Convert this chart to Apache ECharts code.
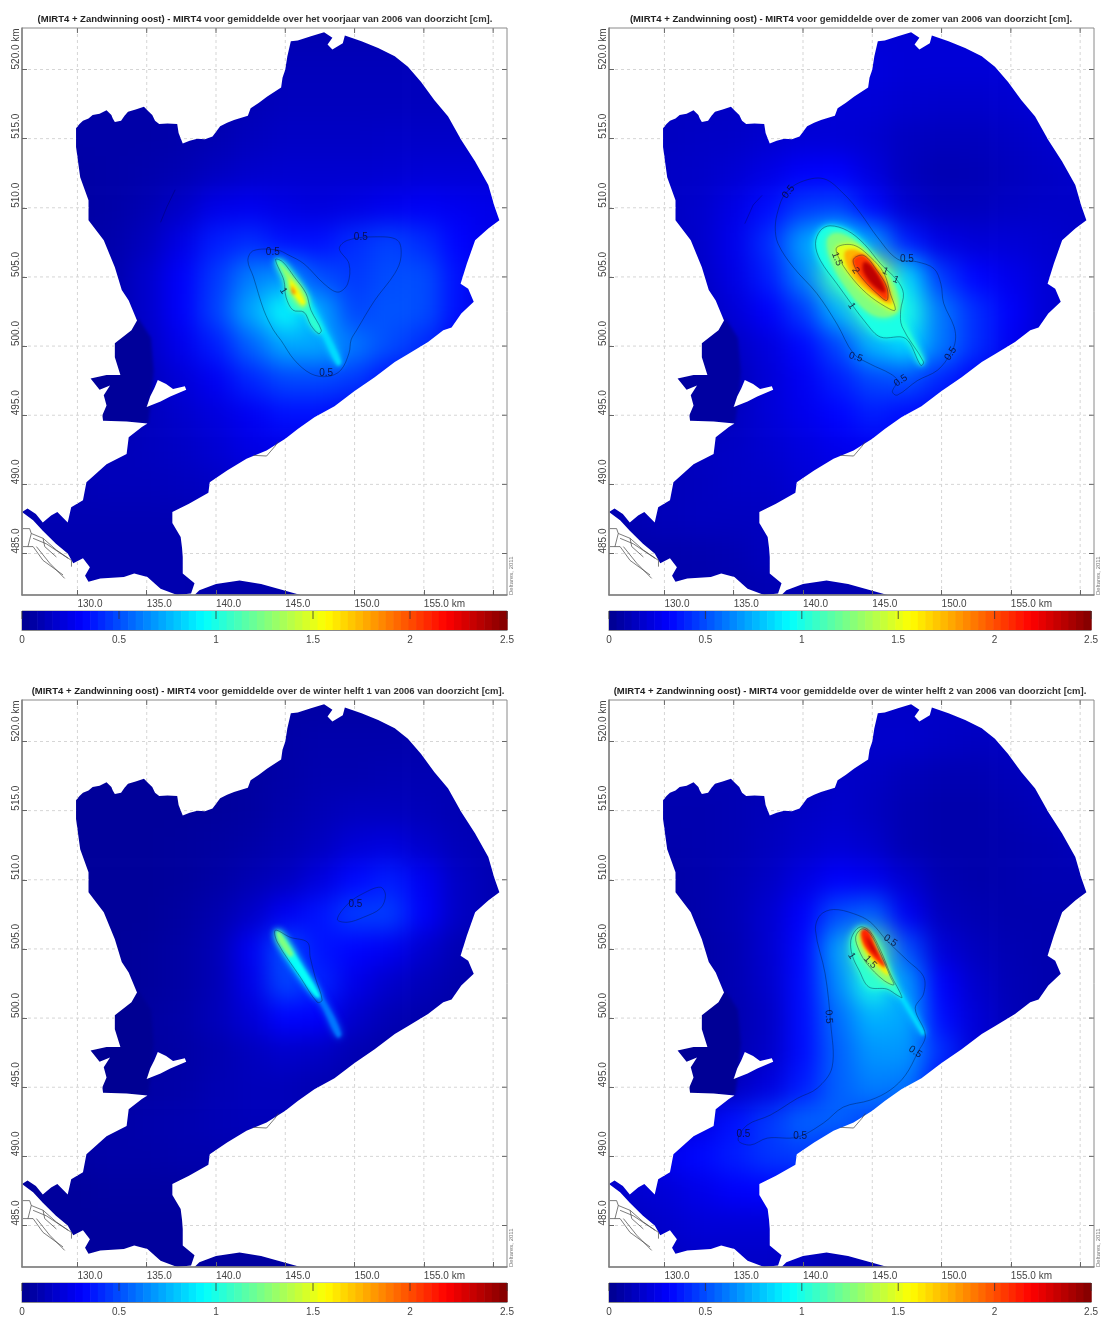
<!DOCTYPE html>
<html><head><meta charset="utf-8">
<style>
html,body{margin:0;padding:0;background:#fff;overflow:hidden;width:1101px;height:1318px}
.layer{position:absolute}
#low{left:-60px;top:-60px;width:1221px;height:1438px;filter:blur(12px)}
#high{left:0;top:0;width:1101px;height:1318px;filter:blur(1.8px)}
#main{left:0;top:0;width:1101px;height:1318px;filter:blur(.6px)}
</style>
<script src="https://cdn.jsdelivr.net/npm/echarts@6/dist/echarts.min.js"></script>
</head><body>
<div id="low" class="layer"></div><div id="high" class="layer"></div><div id="main" class="layer"></div>
<script>
// ---------- labels ----------
const titleBold='(MIRT4 + Zandwinning oost) - MIRT4';
const titleTexts=[
 ' voor gemiddelde over het voorjaar van 2006 van doorzicht [cm].',
 ' voor gemiddelde over de zomer van 2006 van doorzicht [cm].',
 ' voor gemiddelde over de winter helft 1 van 2006 van doorzicht [cm].',
 ' voor gemiddelde over de winter helft 2 van 2006 van doorzicht [cm].'];
const xTickValues=[130,135,140,145,150,155,160];
const xLabelValues=[130,135,140,145,150,155];
const yTickValues=[485,490,495,500,505,510,515,520];
const barTickValues=[0,0.5,1,1.5,2,2.5];
const jetStops=['#00008f','#0000ff','#0080ff','#00ffff','#80ff80','#ffff00','#ff8000','#ff0000','#800000'];

// ---------- field estimate read from the maps (cm), rows north to south ----------
const fieldX=[125,127.5,130,132.5,135,137.5,140,142.5,145,147.5,150,152.5,155,157.5,160,162.5];
const fieldY=[525,522.5,520,517.5,515,512.5,510,507.5,505,502.5,500,497.5,495,492.5,490,487.5,485,482.5,480];
const fieldP1=[
[.08,.08,.08,.08,.08,.08,.08,.1,.1,.1,.1,.1,.1,.1,.1,.1],
[.08,.08,.08,.08,.08,.08,.08,.1,.1,.1,.1,.1,.1,.1,.1,.1],
[.08,.08,.08,.08,.08,.08,.09,.1,.12,.12,.12,.12,.12,.12,.12,.12],
[.07,.07,.07,.07,.07,.08,.09,.11,.13,.13,.13,.13,.13,.13,.13,.13],
[.07,.07,.07,.07,.07,.08,.1,.13,.15,.15,.15,.16,.16,.16,.16,.16],
[.06,.06,.06,.07,.08,.1,.14,.17,.18,.18,.18,.19,.2,.2,.2,.2],
[.06,.06,.06,.07,.1,.16,.25,.27,.24,.22,.24,.27,.29,.27,.25,.25],
[.06,.06,.06,.08,.13,.24,.38,.42,.35,.35,.42,.47,.42,.32,.25,.25],
[.06,.06,.06,.09,.17,.3,.45,.62,.68,.5,.45,.5,.5,.35,.2,.2],
[.06,.06,.06,.09,.17,.3,.47,.72,.95,.72,.48,.52,.5,.35,.18,.18],
[.06,.06,.06,.08,.15,.26,.38,.55,.72,.72,.6,.5,.42,.28,.15,.15],
[.05,.05,.05,.07,.13,.2,.28,.4,.48,.48,.45,.35,.25,.2,.15,.15],
[.05,.05,.06,.08,.13,.17,.22,.28,.35,.35,.28,.22,.18,.15,.15,.15],
[.08,.1,.1,.12,.13,.15,.19,.24,.25,.24,.2,.18,.15,.15,.15,.15],
[.08,.1,.11,.12,.12,.13,.15,.18,.2,.18,.15,.15,.15,.15,.15,.15],
[.09,.1,.1,.1,.1,.1,.12,.13,.13,.12,.12,.12,.12,.12,.12,.12],
[.09,.09,.09,.09,.09,.09,.1,.1,.1,.1,.1,.1,.1,.1,.1,.1],
[.09,.09,.09,.09,.09,.09,.08,.08,.08,.08,.08,.08,.08,.08,.08,.08],
[.09,.09,.09,.09,.09,.09,.08,.08,.08,.08,.08,.08,.08,.08,.08,.08]];
const fieldP2=[
[.14,.14,.14,.14,.14,.14,.14,.18,.2,.2,.2,.2,.2,.2,.2,.2],
[.14,.14,.14,.14,.14,.14,.14,.18,.2,.2,.2,.2,.2,.2,.2,.2],
[.14,.14,.14,.14,.14,.15,.16,.18,.22,.2,.2,.2,.2,.2,.2,.2],
[.14,.14,.14,.14,.15,.16,.18,.2,.2,.18,.17,.17,.18,.2,.2,.2],
[.14,.14,.14,.15,.16,.18,.2,.2,.18,.14,.13,.13,.15,.17,.2,.2],
[.14,.14,.15,.16,.19,.24,.3,.31,.22,.13,.1,.11,.13,.15,.17,.17],
[.14,.14,.15,.17,.24,.34,.45,.47,.33,.18,.13,.13,.15,.16,.16,.16],
[.1,.12,.13,.17,.26,.42,.7,.9,.7,.38,.24,.2,.2,.18,.16,.16],
[.08,.1,.11,.15,.24,.38,.62,1.1,1.5,.85,.45,.32,.26,.2,.16,.16],
[.08,.08,.09,.13,.2,.3,.45,.75,1.1,1,.6,.42,.3,.2,.15,.15],
[.07,.07,.08,.1,.15,.22,.33,.48,.75,.85,.6,.42,.28,.18,.15,.15],
[.06,.06,.06,.08,.12,.2,.28,.38,.48,.5,.4,.3,.2,.15,.15,.15],
[.08,.08,.08,.1,.14,.2,.26,.32,.38,.34,.28,.2,.17,.15,.15,.15],
[.1,.1,.12,.14,.15,.18,.22,.26,.28,.28,.22,.18,.15,.15,.15,.15],
[.1,.11,.12,.13,.15,.16,.2,.22,.22,.2,.18,.15,.15,.15,.15,.15],
[.1,.1,.12,.13,.13,.14,.15,.15,.15,.15,.15,.15,.15,.15,.15,.15],
[.08,.08,.08,.09,.1,.13,.13,.13,.13,.13,.13,.13,.13,.13,.13,.13],
[.08,.08,.08,.08,.09,.1,.1,.1,.1,.1,.1,.1,.1,.1,.1,.1],
[.08,.08,.08,.08,.09,.1,.1,.1,.1,.1,.1,.1,.1,.1,.1,.1]];
const fieldP3=[
[.04,.04,.04,.04,.04,.04,.04,.05,.06,.06,.06,.06,.06,.06,.06,.06],
[.04,.04,.04,.04,.04,.04,.04,.05,.06,.06,.06,.06,.06,.06,.06,.06],
[.03,.03,.03,.03,.03,.03,.03,.05,.07,.08,.08,.08,.08,.08,.08,.08],
[.03,.03,.03,.03,.03,.03,.04,.05,.07,.09,.09,.1,.1,.1,.1,.1],
[.03,.03,.03,.03,.03,.03,.04,.05,.08,.11,.13,.13,.12,.1,.1,.1],
[.03,.03,.03,.03,.03,.04,.05,.07,.1,.14,.2,.22,.17,.12,.1,.1],
[.03,.03,.03,.03,.03,.04,.06,.1,.14,.22,.33,.38,.28,.15,.1,.1],
[.03,.03,.03,.03,.03,.05,.09,.16,.28,.36,.46,.46,.3,.15,.1,.1],
[.03,.03,.03,.03,.04,.06,.11,.28,.5,.36,.32,.28,.18,.1,.08,.08],
[.03,.03,.03,.03,.04,.06,.11,.25,.48,.4,.25,.17,.12,.08,.07,.07],
[.03,.03,.03,.03,.05,.07,.12,.2,.32,.3,.17,.11,.08,.06,.05,.05],
[.03,.03,.03,.03,.05,.06,.09,.13,.17,.15,.1,.07,.05,.05,.05,.05],
[.04,.04,.04,.05,.06,.07,.1,.12,.12,.1,.08,.06,.05,.05,.05,.05],
[.05,.05,.06,.07,.08,.09,.11,.12,.12,.1,.07,.05,.05,.05,.05,.05],
[.05,.05,.06,.07,.07,.08,.09,.09,.09,.08,.06,.05,.05,.05,.05,.05],
[.04,.04,.04,.05,.05,.05,.06,.06,.06,.05,.05,.05,.05,.05,.05,.05],
[.04,.04,.04,.04,.04,.04,.04,.04,.04,.04,.04,.04,.04,.04,.04,.04],
[.04,.04,.04,.04,.04,.04,.05,.05,.05,.05,.05,.05,.05,.05,.05,.05],
[.04,.04,.04,.04,.04,.04,.05,.05,.05,.05,.05,.05,.05,.05,.05,.05]];
const fieldP4=[
[.12,.12,.12,.12,.12,.12,.12,.14,.16,.16,.16,.16,.16,.16,.16,.16],
[.12,.12,.12,.12,.12,.12,.12,.14,.16,.16,.16,.16,.16,.16,.16,.16],
[.1,.1,.1,.1,.1,.1,.12,.15,.17,.17,.15,.14,.14,.15,.15,.15],
[.1,.1,.1,.1,.1,.1,.12,.16,.15,.12,.1,.1,.12,.13,.14,.14],
[.09,.09,.09,.09,.1,.12,.15,.17,.14,.1,.08,.08,.1,.12,.14,.14],
[.08,.08,.08,.09,.1,.13,.17,.2,.17,.1,.08,.08,.09,.1,.12,.12],
[.07,.07,.07,.08,.11,.15,.23,.3,.27,.18,.1,.08,.09,.1,.1,.1],
[.06,.06,.06,.08,.11,.18,.3,.5,.55,.28,.13,.1,.09,.09,.09,.09],
[.05,.05,.06,.07,.1,.18,.33,.7,1.2,.5,.2,.13,.1,.09,.09,.09],
[.05,.05,.05,.07,.1,.17,.34,.65,1,.68,.3,.17,.11,.09,.08,.08],
[.05,.05,.05,.07,.09,.15,.34,.58,.75,.72,.34,.2,.12,.08,.08,.08],
[.05,.05,.05,.07,.1,.16,.34,.55,.68,.68,.42,.2,.12,.08,.08,.08],
[.06,.06,.07,.1,.14,.22,.38,.55,.62,.6,.32,.2,.12,.08,.08,.08],
[.1,.12,.17,.24,.35,.45,.55,.55,.48,.4,.3,.2,.12,.08,.08,.08],
[.15,.2,.27,.33,.38,.44,.46,.38,.3,.25,.2,.15,.1,.08,.08,.08],
[.16,.18,.2,.25,.3,.32,.3,.25,.2,.15,.12,.1,.1,.08,.08,.08],
[.12,.14,.17,.2,.2,.2,.18,.15,.12,.1,.1,.1,.1,.08,.08,.08],
[.1,.12,.14,.16,.16,.16,.14,.1,.1,.1,.1,.1,.1,.08,.08,.08],
[.1,.12,.14,.16,.16,.16,.14,.1,.1,.1,.1,.1,.1,.08,.08,.08]];

// ---------- coast in km ----------
const coastMain=[[129.9,515.75],[130.15,516.05],[130.4,516.3],[130.8,516.45],[131.1,516.7],[131.6,516.8],[132.1,517.05],[132.45,516.7],[132.55,516.45],[132.7,516.2],[133.15,516.3],[133.4,516.65],[133.65,516.95],[134.2,517.1],[134.8,517.3],[135.1,517],[135.4,516.7],[135.6,516.3],[135.9,516.05],[136.5,516.1],[137.2,516.05],[137.3,515.4],[137.6,514.65],[138.1,514.85],[138.65,515],[139.2,514.95],[139.75,515.15],[140.3,515.9],[140.8,516.15],[141.3,516.35],[142.3,516.65],[142.5,517.2],[143.1,517.6],[143.7,518.05],[144.7,518.7],[144.8,519.4],[145,520],[145.15,520.95],[145.4,522.05],[145.9,522.1],[146.85,522.4],[147.8,522.7],[148.4,522.3],[148.05,521.8],[148.4,521.45],[149.15,521.9],[149.3,522.45],[150.5,522.05],[151.7,521.55],[152.9,520.95],[153.85,520.2],[154.8,519.1],[155.75,517.8],[156.75,516.6],[157.7,514.9],[158.7,513.35],[159.65,511.65],[160.1,510.1],[160.45,509.1],[159.65,508.5],[158.7,507.65],[158.4,506.8],[158.1,505.95],[157.65,504.5],[158.2,504.15],[158.6,503.2],[157.7,502.35],[157,501.35],[156.4,501.15],[155.3,500.3],[153.9,499.45],[152.9,498.85],[151.45,497.75],[150,496.75],[148.55,495.65],[147.1,494.85],[145.9,494],[145,493.3],[143.65,492.45],[142.2,491.85],[140.8,491],[139.55,490.15],[139.45,489.4],[138.05,488.6],[136.85,488],[136.85,487.2],[137.45,486.2],[137.55,485.4],[137.6,484.75],[137.6,483.55],[138.45,482.85],[138.2,482.1],[137.2,482],[136,482.45],[135.05,483.3],[134.1,483.55],[133.35,483.3],[131.65,483.2],[130.8,482.95],[130.55,483.4],[130.9,484],[130.4,484.65],[129.7,484.3],[129.3,485],[128.45,485.7],[127.5,486.65],[126.8,487.4],[126,488],[126.4,488.25],[127,487.85],[127.5,487.25],[128.1,487.75],[128.55,488],[129.3,487.25],[129.55,488.35],[130.4,488.85],[130.65,490.15],[132.1,491.45],[133.55,492.2],[133.7,493.4],[134.65,494.15],[135.05,494.4],[133.55,494.55],[131.85,494.6],[131.8,495],[132.1,495.7],[131.9,496.45],[132.35,497.15],[131.6,496.85],[130.95,497.65],[132.1,497.9],[133.1,497.9],[132.7,499.2],[132.7,500.2],[133.9,501.15],[134.3,501.85],[133.7,503.3],[133.2,504.05],[132.7,505.7],[131.9,507.65],[130.8,509.1],[130.8,510.55],[130.2,512.2],[129.9,514.4]];
const coastBay=[[135.8,497.55],[136.4,497.25],[136.9,496.9],[137.75,497.1],[137.85,496.85],[136.7,496.35],[136,496],[135,495.6],[135.25,496.35],[135.55,496.95]];
const coastIsland=[[138.45,482],[138.8,482.35],[140,482.8],[141.7,483.05],[143.25,482.8],[145,482.3],[146.1,482]];
const landLines=[
[[126.05,486.8],[126.55,486.8],[126.67,486.45],[127.52,486.1],[128.48,485.25],[129.57,484.5],[129.57,484.05]],
[[126.07,485.5],[126.8,485.5],[127.52,484.5],[128.96,483.45]],
[[126.67,486.45],[126.43,485.5]],
[[127.52,486.1],[127.64,485.5],[128.48,484.75]],
[[127.04,485.5],[128,484.3],[129.08,483.2]],
[[126.8,486.1],[127.76,485.7],[129.33,484.65]],
[[142.7,492.1],[143.65,492.05],[144.25,492.75],[144.5,493.1]]];

// ---------- contour polygons in km ----------
const basinWest=[[131.5,494.3],[135.1,494.4],[135.35,496.2],[135.5,498.2],[135.3,500.6],[134.4,502],[132.6,500.6],[131,498]];
const p1c05=[[144.4,506.95],[142.7,506.9],[142.3,506.2],[142.7,505],[143.45,502.6],[144.15,501.15],[144.7,500.4],[145.65,499],[146.85,498],[148.05,497.8],[149,498.25],[149.6,499.5],[149.75,500.45],[150.15,501.15],[151.45,503.3],[152.9,505.25],[153.35,506.45],[153.1,507.65],[151.45,507.9],[149.5,507.65],[148.9,507.05],[149.6,505.95],[149.5,504.5],[148.8,503.9],[147.8,504.5],[146.35,505.95],[145.2,506.6]];
const p1c05b=[[137.05,511.3],[136.45,510.05],[136,508.95]];
const p1c1=[[144.3,506.25],[144.8,506.1],[145.65,505],[146.5,503.8],[146.85,502.6],[147.6,501.15],[147.4,500.9],[146.85,501.5],[146.35,502.45],[145.55,502.6],[145.05,503.55],[144.9,504.75]];
const p1tail=[[144.3,506.25],[144.8,506.1],[146.5,503.8],[147.95,501.15],[149.05,498.85],[148.75,498.6],[147.45,501.15],[145.6,503.9],[144.6,505.5]];
const p1b125=[[144.45,506.1],[144.9,505.7],[145.9,504.5],[146.5,503.3],[146.25,502.8],[145.65,503.55],[145.05,505]];
const p1b15=[[145.3,504.9],[145.75,504.3],[146.5,503.05],[146.15,503.05],[145.4,504.05]];
const p1b18=[[145.45,504.4],[145.75,503.8],[145.5,503.8]];
const p2c05=[[138,508.6],[138.2,509.8],[138.7,511],[139.8,511.85],[141.5,512.1],[142.95,511],[144.15,509.6],[145.35,507.9],[146.8,506.3],[148.2,506.1],[149.45,505.6],[149.95,504.5],[150.15,503.1],[150.9,501.4],[151,500.4],[150.65,499.45],[149.7,498.25],[148.25,497.5],[146.8,496.45],[146.45,496.7],[146.8,497.5],[146.3,498],[144.85,498.7],[143.65,499.45],[142.45,501.6],[141,503.8],[139.3,505.7],[138.2,507.4]];
const p2c05b=[[135.8,508.85],[136.4,510.2],[137.05,510.9]];
const p2c1=[[140.9,507.4],[141.25,508.35],[141.95,508.7],[143.2,508.35],[144.4,507.4],[145.6,505.95],[146.8,504.75],[147.25,503.8],[147.05,502.6],[147.15,501.4],[148.7,498.85],[148.5,498.6],[147.4,500.55],[145.6,500.65],[144.6,501.6],[142.45,504.5],[141.25,506.2]];
const p2b125=[[141.75,507.65],[142.3,508.15],[143.3,507.9],[144.6,506.8],[145.8,505.6],[146.65,504.3],[146.9,502.6],[146.05,502.1],[144.85,502.35],[143.4,503.8],[142.1,505.95]];
const p2c15=[[142.45,507.15],[143.65,507.3],[144.85,506.45],[145.85,505.25],[146.3,503.8],[146.65,502.6],[145.95,502.85],[144.6,503.8],[143.4,505.1],[142.55,506.45]];
const p2b175=[[143.05,506.8],[143.9,506.9],[145,505.95],[145.95,504.75],[146.4,503.1],[145.6,503.45],[144.25,504.4],[143.3,505.6]];
const p2c2=[[143.65,506.3],[144.4,506.55],[145.35,505.45],[146.05,504.25],[146.05,503.3],[145.35,503.8],[144.4,504.75],[143.8,505.6]];
const p2b235=[[144.4,506.05],[144.85,505.85],[145.6,504.75],[145.9,503.9],[145.1,504.4],[144.4,505.35]];
const p2tail=[[146.4,502.7],[146.8,502.7],[148.75,498.95],[148.5,498.7]];
const p3c05=[[144.28,506.35],[145.36,505.84],[146.6,505.48],[146.8,504.4],[147.16,502.95],[147.66,501.3],[147.3,501.15],[146.09,502.95],[144.43,505.48]];
const p3c05b=[[148.76,507.14],[149.56,508.3],[150.64,509.02],[151.87,509.46],[152.23,508.88],[151.87,507.94],[150.64,507.29],[149.48,506.93]];
const p3tail=[[144.3,506.3],[144.6,506.3],[147.95,501.15],[149.05,498.85],[148.75,498.6],[147.45,501.15],[145.6,503.6],[144.5,505.5]];
const p3mid=[[144.3,506.3],[144.7,506.2],[146.4,503.5],[147.5,501.6],[147.2,501.5],[145.6,503.6],[144.5,505.5]];
const p3top=[[144.3,506.3],[144.65,506.2],[145.6,504.6],[145.35,504.4],[144.5,505.5]];
const p4c05=[[140.9,506.35],[141.25,507.45],[142.2,507.85],[143.65,507.55],[144.85,506.95],[146.05,505.6],[147.5,504.2],[148.7,503],[148.7,501.75],[148.1,500.7],[148.83,498.76],[148.25,497.46],[147.39,495.87],[146.3,494.8],[144.86,494.07],[142.9,493.56],[141.46,492.4],[139.58,491.39],[137.42,491.32],[136.19,490.82],[135.32,491.18],[135.97,492.26],[137.63,492.98],[139.6,494.2],[141.03,494.93],[142.1,496.45],[142,499.6],[141.6,503.2]];
const p4c1=[[143.45,505.6],[143.8,506.35],[144.25,506.6],[144.85,506.25],[145.6,504.9],[146.3,503.2],[147.15,501.5],[146.8,501.65],[146.05,502.1],[144.75,502.25],[144.05,503.45],[143.55,504.55]];
const p4b13=[[143.8,505.85],[144.25,506.45],[144.85,506.1],[145.6,504.65],[146.3,503],[146.55,502.4],[145.8,502.75],[144.6,503.95],[144.05,504.9]];
const p4b16=[[144.15,506.1],[144.75,506.25],[145.45,504.8],[146.2,503.1],[145.6,503.55],[144.5,504.8]];
const p4b21=[[144.25,506.35],[144.7,506.35],[145.2,505.25],[145.95,503.7],[145.45,504.05],[144.6,505],[144.25,505.75]];
const p4b235=[[144.5,505.95],[144.85,505.5],[145.45,504.4],[144.95,505]];
const p4tail=[[146.85,501.65],[147.15,501.8],[148.85,498.9],[148.6,498.7]];

const bandsByPanel=[
 [[.03,basinWest],[.85,p1tail],[1.05,p1c1],[1.3,p1b125],[1.55,p1b15],[1.85,p1b18]],
 [[.05,basinWest],[1.05,p2tail],[1,p2c1],[1.25,p2b125],[1.5,p2c15],[1.75,p2b175],[2.05,p2c2],[2.35,p2b235]],
 [[.01,basinWest],[.6,p3tail],[.95,p3mid],[1.25,p3top]],
 [[.02,basinWest],[.85,p4tail],[1.05,p4c1],[1.3,p4b13],[1.6,p4b16],[2.1,p4b21],[2.35,p4b235]]];
const contoursByPanel=[
 [p1c05,p1c1],[p2c05,p2c1,p2c15,p2c2],[p3c05,p3c05b],[p4c05,p4c1,p4b13]];
const openByPanel=[[p1c05b],[p2c05b],[],[]];
const labelsByPanel=[
 [[150.45,507.85,'0.5',0],[144.1,506.8,'0.5',0],[147.95,498,'0.5',0],[144.85,504,'1',-1]],
 [[138.95,511.15,'0.5',.9],[147.5,506.3,'0.5',0],[145.95,505.4,'1',-.4],[146.7,504.8,'1',-.4],[142.45,506.3,'1.5',-1.2],[143.8,505.45,'2',-1],[143.5,502.9,'1',-1],[143.8,499.2,'0.5',-.3],[150.65,499.45,'0.5',1],[147.05,497.5,'0.5',.6]],
 [[150.06,508.23,'0.5',0]],
 [[146.3,505.6,'0.5',-.6],[143.5,504.5,'1',-1],[144.85,504.05,'1.5',-.8],[141.85,500.1,'0.5',-1.5],[148.1,497.55,'0.5',-.6],[139.8,491.45,'0.5',0],[135.7,491.6,'0.5',0]]];

// ---------- layout ----------
const panels=[{l:22,t:28,tc:260},{l:609,t:28,tc:846},{l:22,t:700,tc:263},{l:609,t:700,tc:845}];
const W=485,H=567;
const XMIN=126,XMAX=161,YMIN=482,YMAX=523;
const FONT='"Liberation Sans",Arial,sans-serif';
const jet=v=>echarts.color.lerp(Math.min(1,v/2.5),jetStops);

// ---- low layer: broad field as heatmap ----
const kx=W/(XMAX-XMIN),ky=H/(YMAX-YMIN);
const fields=[fieldP1,fieldP2,fieldP3,fieldP4];
const lowGrids=[],lowX=[],lowY=[],lowSeries=[];
panels.forEach((p,i)=>{
 lowGrids.push({left:60+p.l+(123.75-XMIN)*kx,top:60+p.t-(526.25-YMAX)*ky,width:40*kx,height:47.5*ky});
 lowX.push({type:'category',data:fieldX.map(String),gridIndex:i,show:false});
 lowY.push({type:'category',data:fieldY.map(String),gridIndex:i,show:false,inverse:true});
 const d=[];fields[i].forEach((r,ri)=>r.forEach((v,ci)=>d.push([ci,ri,v])));
 lowSeries.push({type:'heatmap',xAxisIndex:i,yAxisIndex:i,data:d,progressive:0,animation:false});
});
echarts.init(document.getElementById('low')).setOption({animation:false,grid:lowGrids,xAxis:lowX,yAxis:lowY,series:lowSeries,
 visualMap:{show:false,min:0,max:2.5,seriesIndex:[0,1,2,3],inRange:{color:jetStops},calculable:false}});

// ---- high layer: concentrated plume ----
const hiGrids=[],hiX=[],hiY=[],hiSeries=[];
panels.forEach((p,i)=>{
 hiGrids.push({left:p.l,top:p.t,width:W,height:H});
 hiX.push({type:'value',min:XMIN,max:XMAX,gridIndex:i,show:false});
 hiY.push({type:'value',min:YMIN,max:YMAX,gridIndex:i,show:false});
 const bands=bandsByPanel[i];
 hiSeries.push({type:'custom',xAxisIndex:i,yAxisIndex:i,coordinateSystem:'cartesian2d',clip:false,
  data:bands.map((b,k)=>[b[1][0][0],b[1][0][1],k]),encode:{x:0,y:1},
  renderItem:(pr,api)=>{const b=bands[pr.dataIndex];
   const c=jet(b[0]);
   return {type:'polygon',shape:{points:b[1].map(q=>api.coord(q)),smooth:(b[1].length>5&&b[1]!==basinWest)?.35:0},
    style:b[1]===basinWest?{fill:c}:{fill:c,shadowBlur:b[0]<1.6?7:3,shadowColor:c}};}});
});
echarts.init(document.getElementById('high')).setOption({animation:false,grid:hiGrids,xAxis:hiX,yAxis:hiY,series:hiSeries});

// ---- top layer ----
const area=r=>{let s=0;r.forEach((q,i)=>{const n=r[(i+1)%r.length];s+=q[0]*n[1]-n[0]*q[1];});return s;};
const sub=(r,pos)=>{const o=(area(r)>0)===pos?r:r.slice().reverse();return 'M'+o.map(q=>q[0].toFixed(2)+' '+q[1].toFixed(2)).join('L')+'Z';};
function maskPath(api){
 const M=100,a=api.coord([XMIN,YMAX]),b=api.coord([XMAX,YMIN]);
 const rect=[[a[0]-M,a[1]-M],[b[0]+M,a[1]-M],[b[0]+M,b[1]+M],[a[0]-M,b[1]+M]];
 const c=r=>r.map(q=>api.coord(q));
 return sub(rect,true)+sub(c(coastMain),false)+sub(c(coastBay),true)+sub(c(coastIsland),false);
}
const grids=[],xAxes=[],yAxes=[],series=[],titles=[],notes=[];
const common={animation:false,clip:false,coordinateSystem:'cartesian2d'};
panels.forEach((p,i)=>{
 const color='#444';
 grids[i]={left:p.l,top:p.t,width:W,height:H,show:true,z:5,borderColor:'#8a8a8a',borderWidth:1,backgroundColor:'transparent'};
 xAxes[i]={type:'value',gridIndex:i,min:XMIN,max:XMAX,z:6,splitLine:{show:false},
  axisLine:{lineStyle:{color:'#808080',width:1.5}},
  axisTick:{inside:true,length:5,customValues:xTickValues,lineStyle:{color:'#666'}},
  axisLabel:{customValues:xLabelValues,align:'left',margin:4,fontSize:10,fontFamily:FONT,color,
   formatter:v=>v===155?'155.0 km':v.toFixed(1)}};
 yAxes[i]={type:'value',gridIndex:i,min:YMIN,max:YMAX,z:6,splitLine:{show:false},
  axisLine:{lineStyle:{color:'#808080',width:1.5}},
  axisTick:{inside:true,length:5,customValues:yTickValues,lineStyle:{color:'#666'}},
  axisLabel:{customValues:yTickValues,rotate:90,align:'left',verticalAlign:'bottom',margin:1,fontSize:10,fontFamily:FONT,color,
   formatter:v=>v===520?'520.0 km':v.toFixed(1)}};
 // mask
 series.push({...common,type:'custom',xAxisIndex:i,yAxisIndex:i,z:1,data:[[XMIN,YMIN]],encode:{x:0,y:1},
  renderItem:(pr,api)=>({type:'path',shape:{pathData:maskPath(api)},style:{fill:'#fff',stroke:null}})});
 // grid lines, only on land
 series.push({...common,type:'custom',xAxisIndex:i,yAxisIndex:i,z:2,data:[[XMIN,YMIN]],encode:{x:0,y:1},
  renderItem:(pr,api)=>{
   const ch=[];const st={stroke:'#d6d6d6',lineWidth:1,lineDash:[3,3],fill:null};
   xTickValues.forEach(v=>{const a=api.coord([v,YMIN]),b=api.coord([v,YMAX]);ch.push({type:'line',shape:{x1:a[0],y1:a[1],x2:b[0],y2:b[1]},style:st});});
   yTickValues.forEach(v=>{const a=api.coord([XMIN,v]),b=api.coord([XMAX,v]);ch.push({type:'line',shape:{x1:a[0],y1:a[1],x2:b[0],y2:b[1]},style:st});});
   return {type:'group',clipPath:{type:'path',shape:{pathData:maskPath(api)}},children:ch};
  }});
 // land lines, contours, labels, top and right ticks
 series.push({...common,type:'custom',xAxisIndex:i,yAxisIndex:i,z:3,data:[[XMIN,YMIN]],encode:{x:0,y:1},
  renderItem:(pr,api)=>{
   const ch=[];const c=r=>r.map(q=>api.coord(q));
   landLines.forEach(r=>ch.push({type:'polyline',shape:{points:c(r)},style:{stroke:'#444',lineWidth:.7,fill:null}}));
   contoursByPanel[i].forEach(r=>ch.push({type:'polygon',shape:{points:c(r),smooth:.35},style:{stroke:'rgba(0,25,60,.5)',lineWidth:.8,fill:null}}));
   openByPanel[i].forEach(r=>ch.push({type:'polyline',shape:{points:c(r)},style:{stroke:'rgba(0,0,40,.35)',lineWidth:.8,fill:null}}));
   labelsByPanel[i].forEach(l=>{const q=api.coord([l[0],l[1]]);
    ch.push({type:'text',x:q[0],y:q[1],rotation:l[3],style:{text:l[2],font:'10px '+FONT,fill:'rgba(10,10,40,.8)',align:'center',verticalAlign:'middle'}});});
   const tk={stroke:'#666',lineWidth:1,fill:null};
   xTickValues.forEach(v=>{const a=api.coord([v,YMAX]);ch.push({type:'line',shape:{x1:a[0],y1:a[1],x2:a[0],y2:a[1]+5},style:tk});});
   yTickValues.forEach(v=>{const a=api.coord([XMAX,v]);ch.push({type:'line',shape:{x1:a[0],y1:a[1],x2:a[0]-5,y2:a[1]},style:tk});});
   return {type:'group',children:ch};
  }});
 // colour bar
 const bi=i+4;const top=p.t+H+16;
 grids[bi]={left:p.l,top:top,width:W,height:19,show:true,z:5,borderColor:'#8a8a8a',borderWidth:1,backgroundColor:'transparent'};
 xAxes[bi]={type:'value',gridIndex:bi,min:0,max:2.5,z:6,splitLine:{show:false},
  axisLine:{lineStyle:{color:'#8a8a8a',width:1}},axisTick:{show:false},
  axisLabel:{customValues:barTickValues,margin:5,fontSize:10,fontFamily:FONT,color:'#444',formatter:v=>String(v)}};
 yAxes[bi]={type:'value',gridIndex:bi,min:0,max:1,show:false};
 series.push({...common,type:'custom',xAxisIndex:bi,yAxisIndex:bi,z:5,data:[[0,0,2.5,1]],encode:{x:[0,2],y:[1,3]},
  renderItem:(pr,api)=>{
   const ch=[],N=64;
   for(let k=0;k<N;k++){
    const a=api.coord([2.5*k/N,1]),b=api.coord([2.5*(k+1)/N,0]);
    ch.push({type:'rect',shape:{x:a[0],y:a[1],width:b[0]-a[0]+.6,height:b[1]-a[1]},style:{fill:jet(2.5*(k+.5)/N)}});
   }
   barTickValues.forEach(v=>{const a=api.coord([v,1]);
    ch.push({type:'line',shape:{x1:a[0],y1:a[1],x2:a[0],y2:a[1]+8},style:{stroke:'#333',lineWidth:.8,fill:null}});});
   return {type:'group',children:ch};
  }});
 titles.push({text:'{b|'+titleBold+'}{n|'+titleTexts[i]+'}',left:p.tc,top:p.t-19,textAlign:'center',z:7,
  textStyle:{rich:{b:{fontSize:9.5,fontWeight:'bold',fontFamily:FONT,color:'#222'},n:{fontSize:9.5,fontFamily:FONT,color:'#333'}}}});
 notes.push({type:'text',x:p.l+W+4,y:p.t+H,rotation:Math.PI/2,z:7,style:{text:'Deltares, 2011',font:'6px '+FONT,fill:'#777',align:'left',verticalAlign:'middle'}});
});
echarts.init(document.getElementById('main')).setOption({animation:false,backgroundColor:'transparent',title:titles,grid:grids,xAxis:xAxes,yAxis:yAxes,series,graphic:notes});
</script>
</body></html>
